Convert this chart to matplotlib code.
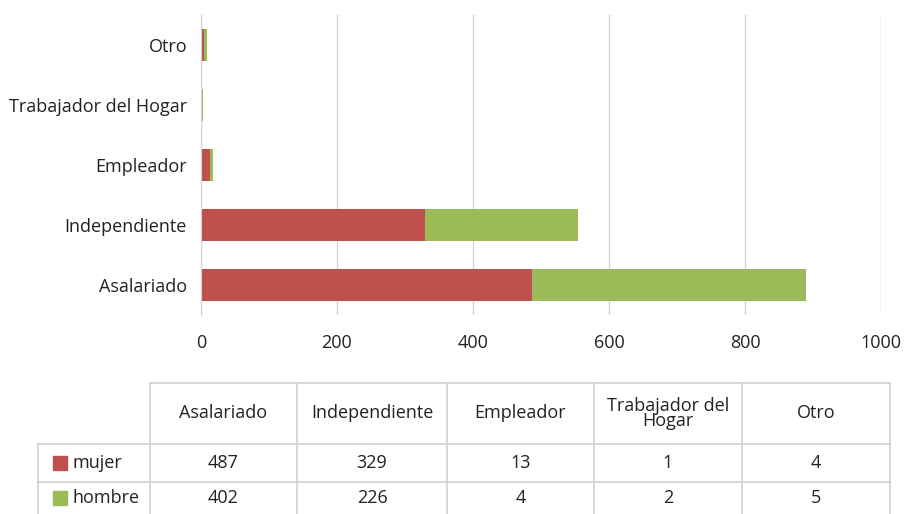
import matplotlib
matplotlib.use('Agg')
import matplotlib.pyplot as plt
import numpy as np

plt.rcParams['font.family'] = ['Open Sans', 'DejaVu Sans']

categories = ['Asalariado', 'Independiente', 'Empleador', 'Trabajador del Hogar', 'Otro']
col_headers = ['Asalariado', 'Independiente', 'Empleador', 'Trabajador del\nHogar', 'Otro']
mujer = [487, 329, 13, 1, 4]
hombre = [402, 226, 4, 2, 5]
series_names = ['mujer', 'hombre']
xticks = [0, 200, 400, 600, 800, 1000]

RED = '#C0504D'
GREEN = '#9BBB59'
GRID = '#D4D4D4'
TXT = '#222222'
FS = 13

W, H = 906, 514
fig = plt.figure(figsize=(W / 100, H / 100), dpi=100)

# bar chart
ax = fig.add_axes([201 / W, 1 - 315 / H, 680 / W, 300 / H])
y = np.arange(len(categories))
ax.barh(y, mujer, height=0.53, color=RED)
ax.barh(y, hombre, left=mujer, height=0.53, color=GREEN)
ax.set_xlim(0, 1000)
ax.set_ylim(-0.5, len(categories) - 0.5)
ax.set_xticks(xticks)
ax.set_xticklabels([str(t) for t in xticks], fontsize=FS, color=TXT)
ax.set_yticks(y)
ax.set_yticklabels(categories, fontsize=FS, color=TXT)
ax.tick_params(length=0)
ax.tick_params(axis='x', pad=14)
ax.tick_params(axis='y', pad=10)
ax.grid(axis='x', color=GRID, linewidth=1)
ax.set_axisbelow(True)
for s in ['top', 'right', 'bottom']:
    ax.spines[s].set_visible(False)
ax.spines['left'].set_color(GRID)

# data table
tx = fig.add_axes([0, 0, 1, 1])
tx.set_xlim(0, W)
tx.set_ylim(H, 0)
tx.axis('off')
col_x = [150, 297, 447, 594, 742, 890]
row_y = [383, 444, 482, 520]
left_x = 38
lc = dict(color=GRID, linewidth=1.3)
tx.plot([col_x[0], col_x[-1]], [row_y[0], row_y[0]], **lc)
for ry in row_y[1:3]:
    tx.plot([left_x, col_x[-1]], [ry, ry], **lc)
for cx in col_x:
    tx.plot([cx, cx], [row_y[0], row_y[-1]], **lc)
tx.plot([left_x, left_x], [row_y[1], row_y[-1]], **lc)

for i, h in enumerate(col_headers):
    cx = (col_x[i] + col_x[i + 1]) / 2
    tx.text(cx, (row_y[0] + row_y[1]) / 2, h, ha='center', va='center',
            fontsize=FS, color=TXT, linespacing=0.75)

for r, (name, vals, col) in enumerate(zip(series_names, [mujer, hombre], [RED, GREEN])):
    cy = (row_y[r + 1] + min(row_y[r + 2], H)) / 2
    tx.add_patch(plt.Rectangle((53, cy - 7), 14, 14, color=col))
    tx.text(72, cy, name, ha='left', va='center', fontsize=FS, color=TXT)
    for i, v in enumerate(vals):
        cx = (col_x[i] + col_x[i + 1]) / 2
        tx.text(cx, cy, str(v), ha='center', va='center', fontsize=FS, color=TXT)

fig.savefig('out.png', dpi=100)
